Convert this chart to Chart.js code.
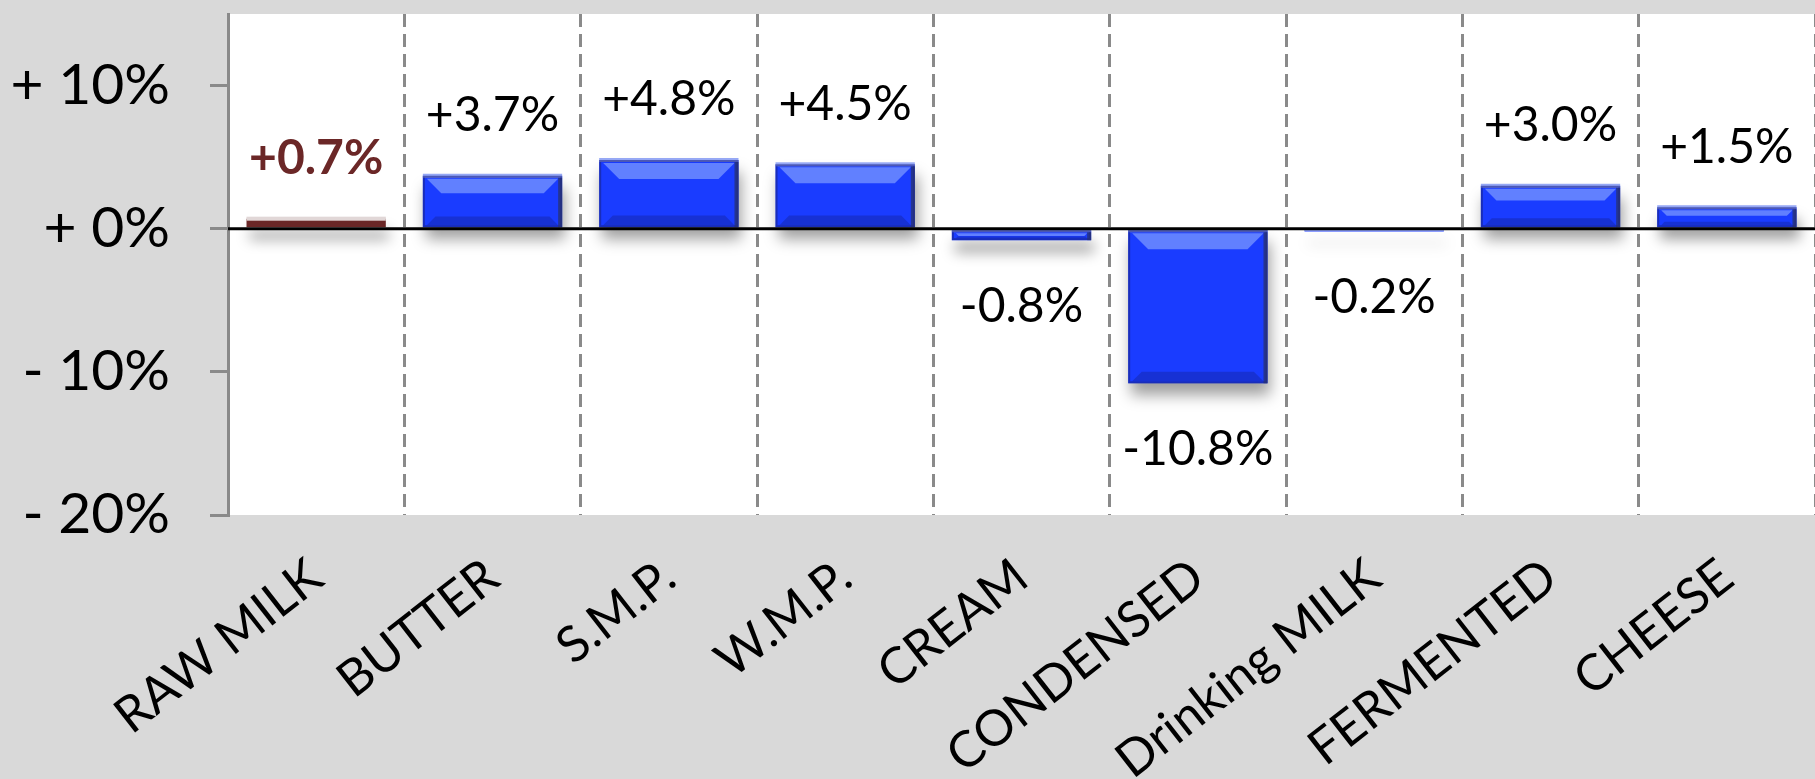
<!DOCTYPE html>
<html><head><meta charset="utf-8">
<script src="https://cdn.jsdelivr.net/npm/chart.js@4.4.1/dist/chart.umd.min.js"></script>
<style>html,body{margin:0;padding:0;background:#d9d9d9;overflow:hidden}canvas{display:block}</style>
</head><body>
<canvas id="c" width="1815" height="779"></canvas>
<script>
const categories = ['RAW MILK','BUTTER','S.M.P.','W.M.P.','CREAM','CONDENSED','Drinking MILK','FERMENTED','CHEESE'];
const changes = [0.7, 3.7, 4.8, 4.5, -0.8, -10.8, -0.2, 3.0, 1.5];
const yTickValues = [-20, -10, 0, 10];
const yTickLabels = ['- 20%', '- 10%', '+ 0%', '+ 10%'];
const highlightCategory = 'RAW MILK';

const FONT = 'Lato, "Open Sans", sans-serif';
const BLUE = '#1a3cff';
const RED = '#6b2727';
const GRAY = '#8a8a8a';

function fmt(v){ return (v > 0 ? '+' : '') + v.toFixed(1) + '%'; }

const bgPlugin = {
  id: 'bg',
  beforeDraw(chart){
    const {ctx, chartArea: a} = chart;
    ctx.save();
    ctx.fillStyle = '#d9d9d9';
    ctx.fillRect(0, 0, chart.width, chart.height);
    ctx.fillStyle = '#ffffff';
    ctx.fillRect(a.left, a.top, a.right - a.left, a.bottom - a.top);
    ctx.restore();
  }
};

const shadowPlugin = {
  id: 'shadow',
  beforeDatasetDraw(chart){
    const ctx = chart.ctx;
    ctx.save();
    ctx.shadowColor = 'rgba(0,0,0,0.38)';
    ctx.shadowBlur = 14;
    ctx.shadowOffsetY = 12;
    ctx.shadowOffsetX = 3;
  },
  afterDatasetDraw(chart){ chart.ctx.restore(); }
};

const overlayPlugin = {
  id: 'overlay',
  afterDatasetsDraw(chart){
    const ctx = chart.ctx;
    const meta = chart.getDatasetMeta(0);
    const ys = chart.scales.y;
    const a = chart.chartArea;
    ctx.save();
    meta.data.forEach((el, i) => {
      const hl = categories[i] === highlightCategory;
      const p = el.getProps(['x','y','base','width'], true);
      const left = p.x - p.width/2, right = p.x + p.width/2;
      const top = Math.min(p.y, p.base), bottom = Math.max(p.y, p.base);
      const h = bottom - top;
      const b = Math.min(16, h * 0.28);
      ctx.fillStyle = hl ? 'rgba(225,215,215,1)' : 'rgba(150,168,245,1)';
      ctx.fillRect(left, top - 2, p.width, Math.min(4, h/2 + 2));
      if (!hl && h > 6) {
        ctx.fillStyle = 'rgba(110,140,255,0.85)';
        ctx.beginPath();
        ctx.moveTo(left + 4, top + 3);
        ctx.lineTo(right - 4, top + 3);
        ctx.lineTo(right - 4 - b, top + 3 + b);
        ctx.lineTo(left + 4 + b, top + 3 + b);
        ctx.closePath();
        ctx.fill();
        ctx.fillStyle = 'rgba(20,35,160,0.45)';
        ctx.beginPath();
        ctx.moveTo(left + 4, bottom - 2);
        ctx.lineTo(right - 4, bottom - 2);
        ctx.lineTo(right - 4 - b*0.6, bottom - 2 - b*0.6);
        ctx.lineTo(left + 4 + b*0.6, bottom - 2 - b*0.6);
        ctx.closePath();
        ctx.fill();
        ctx.strokeStyle = 'rgba(25,35,140,0.6)';
        ctx.lineWidth = 2;
        ctx.strokeRect(left + 1, top + 1, p.width - 2, h - 2);
        ctx.fillStyle = 'rgba(40,50,110,0.75)';
        ctx.fillRect(right - 4, top + 2, 4, h - 2);
      }
    });
    const y0 = ys.getPixelForValue(0);
    ctx.strokeStyle = '#000';
    ctx.lineWidth = 3;
    ctx.beginPath();
    ctx.moveTo(a.left, y0);
    ctx.lineTo(a.right, y0);
    ctx.stroke();
    ctx.textAlign = 'center';
    ctx.textBaseline = 'middle';
    meta.data.forEach((el, i) => {
      const v = changes[i];
      const hl = categories[i] === highlightCategory;
      const yv = ys.getPixelForValue(v);
      ctx.font = (hl ? 'bold ' : '') + '48px ' + FONT;
      ctx.fillStyle = hl ? RED : '#000';
      ctx.fillText(fmt(v), el.x, v >= 0 ? yv - 60 : yv + 66);
    });
    ctx.restore();
  }
};

new Chart(document.getElementById('c'), {
  type: 'bar',
  data: {
    labels: categories,
    datasets: [{
      data: changes,
      backgroundColor: categories.map(c => c === highlightCategory ? RED : BLUE),
      borderWidth: 0,
      barPercentage: 0.79,
      categoryPercentage: 1.0
    }]
  },
  options: {
    responsive: false,
    animation: false,
    devicePixelRatio: 1,
    layout: { padding: { top: 14, right: 0, left: 0, bottom: 0 } },
    plugins: { legend: { display: false }, tooltip: { enabled: false } },
    scales: {
      x: {
        offset: true,
        grid: {
          offset: true,
          drawTicks: false,
          lineWidth: 3,
          color: ctx => (ctx.index === 0 || ctx.index >= categories.length) ? 'rgba(0,0,0,0)' : GRAY
        },
        border: { display: false, dash: [13, 7] },
        ticks: {
          autoSkip: false,
          maxRotation: 38,
          minRotation: 38,
          padding: 32,
          color: '#000',
          font: { family: FONT, size: 50 }
        },
        afterFit(scale){ scale.height = 264; scale.paddingLeft = 0; scale.paddingRight = 0; }
      },
      y: {
        min: -20,
        max: 15,
        afterBuildTicks(scale){ scale.ticks = yTickValues.map(v => ({ value: v })); },
        grid: { drawOnChartArea: false, drawTicks: true, tickLength: 18, lineWidth: 3, color: GRAY, tickColor: GRAY },
        border: { display: true, color: GRAY, width: 3 },
        ticks: {
          padding: 40,
          color: '#000',
          font: { family: FONT, size: 57 },
          callback: (v) => yTickLabels[yTickValues.indexOf(v)]
        },
        afterFit(scale){ scale.width = 228; scale.paddingTop = 0; scale.paddingBottom = 0; }
      }
    }
  },
  plugins: [bgPlugin, shadowPlugin, overlayPlugin]
});
</script>
</body></html>
